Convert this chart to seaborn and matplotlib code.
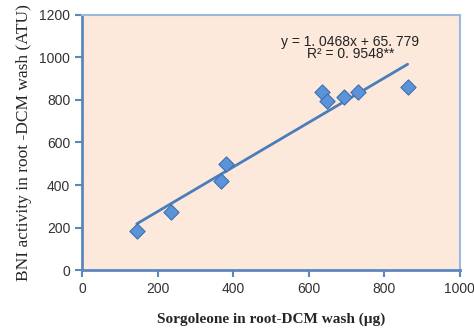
import numpy as np
import pandas as pd
import seaborn as sns
import matplotlib
matplotlib.use('Agg')
import matplotlib.pyplot as plt

# data
sorgoleone = [145, 235, 368, 381, 635, 648, 693, 730, 862]
bni = [184, 273, 419, 499, 838, 795, 814, 838, 861]
slope = 1.0468
intercept = 65.779
x_ticks = [0, 200, 400, 600, 800, 1000]
y_ticks = [0, 200, 400, 600, 800, 1000, 1200]

df = pd.DataFrame({'x': sorgoleone, 'y': bni})

sns.set_style('white')
plt.rcParams['font.family'] = ['Liberation Sans', 'DejaVu Sans']

fig = plt.figure(figsize=(4.74, 3.31), dpi=100)
ax = fig.add_axes([0.173, 0.184, 0.797, 0.771])
ax.set_facecolor('#fde9db')

# trend line over the data range
fit_x = np.array([min(sorgoleone), max(sorgoleone)])
fit_y = slope * fit_x + intercept
sns.lineplot(x=fit_x, y=fit_y, ax=ax, color='#4a7ebb', linewidth=2, zorder=2)

sns.scatterplot(data=df, x='x', y='y', ax=ax, marker='D', s=60,
                color='#5b93d8', edgecolor='#3f6fae', linewidth=0.8, zorder=3)

ax.set_xlim(0, 1000)
ax.set_ylim(0, 1200)
ax.set_xticks(x_ticks)
ax.set_yticks(y_ticks)
ax.tick_params(axis='both', direction='out', length=5, width=1.5,
               color='#5b87c0', labelsize=10, labelcolor='#333333',
               bottom=True, left=True)

for side in ['left', 'bottom']:
    ax.spines[side].set_color('#5b87c0')
    ax.spines[side].set_linewidth(2)
for side in ['top', 'right']:
    ax.spines[side].set_color('#9cb8dc')
    ax.spines[side].set_linewidth(1.5)

ax.text(0.71, 0.895, 'y = 1. 0468x + 65. 779', transform=ax.transAxes,
        ha='center', va='center', fontsize=10, color='#222222')
ax.text(0.71, 0.845, 'R\u00b2 = 0. 9548**', transform=ax.transAxes,
        ha='center', va='center', fontsize=10, color='#222222')

ax.set_xlabel('Sorgoleone in root-DCM wash (\u00b5g)', fontsize=11,
              fontweight='bold', family='Liberation Serif', labelpad=12)
ax.set_ylabel('BNI activity in root -DCM wash (ATU)', fontsize=12.5,
              family='Liberation Serif', labelpad=5)

fig.savefig('out.png', dpi=100)
